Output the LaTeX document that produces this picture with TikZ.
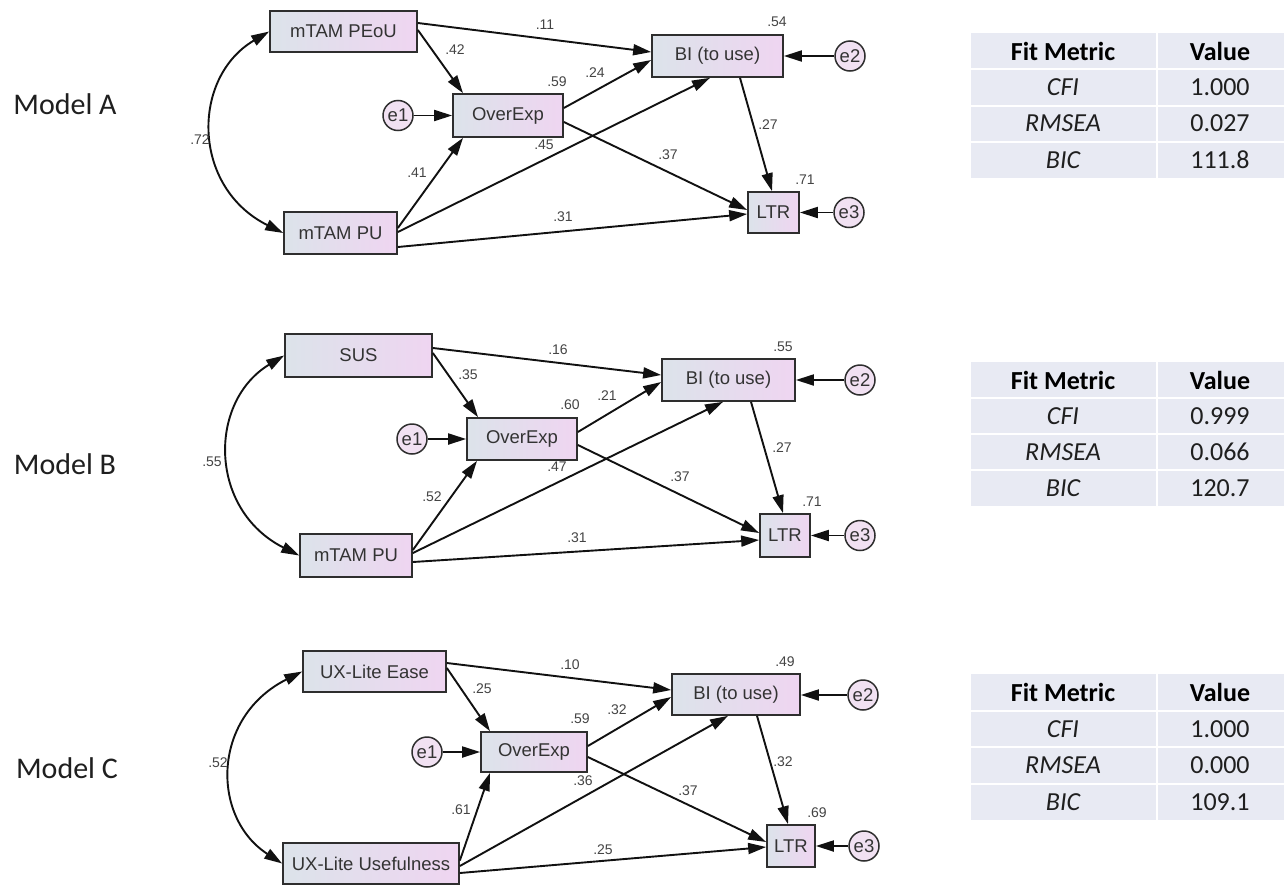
\documentclass[tikz,border=0pt]{standalone}
\usepackage{fontspec}
\setmainfont{Liberation Sans}
\newfontfamily\calib{Carlito}
\usetikzlibrary{arrows.meta,calc}
\definecolor{gL}{HTML}{DCE3EA}
\definecolor{gR}{HTML}{EFD5F1}
\definecolor{boxline}{HTML}{2E2E2E}
\definecolor{txt}{HTML}{333333}
\definecolor{lbl}{HTML}{444444}
\definecolor{errfill}{HTML}{F1E1F2}
\definecolor{cellC}{HTML}{E8EAF3}
\definecolor{lineC}{HTML}{111111}
\tikzset{
 box/.style={draw=boxline, line width=1.7pt, left color=gL, right color=gR, text=txt, font=\fontsize{18.5}{22}\selectfont, inner sep=0pt},
 err/.style={circle, draw=boxline, line width=1.5pt, fill=errfill, text=txt, minimum size=30pt, inner sep=0pt, font=\fontsize{18.5}{20}\selectfont},
 arr/.style={draw=lineC, line width=1.9pt, -{Triangle[length=18pt,width=11pt]}},
 cov/.style={draw=lineC, line width=1.9pt, {Triangle[length=18pt,width=11pt]}-{Triangle[length=18pt,width=11pt]}},
 coef/.style={text=lbl, font=\fontsize{14}{16}\selectfont, inner sep=0pt},
 mlabel/.style={font=\calib\fontsize{30}{34}\selectfont, text=black!88, inner sep=0pt},
 thead/.style={font=\calib\bfseries\fontsize{26}{30}\selectfont, text=black, inner sep=0pt},
 tmet/.style={font=\calib\itshape\fontsize{26}{30}\selectfont, text=black!88, inner sep=0pt},
 tval/.style={font=\calib\fontsize{26}{30}\selectfont, text=black!88, inner sep=0pt},
}
% #1 prefix, #2 top, #3 row height, #4 CFI, #5 RMSEA, #6 BIC
\newcommand\FitTab[6]{%
 \fill[cellC] (971,#2) rectangle (1284,{#2+4*#3});
 \foreach \k in {1,2,3} {\draw[white, line width=2pt] (971,{#2+\k*#3}) -- (1284,{#2+\k*#3});}
 \draw[white, line width=2pt] (1157,#2) -- (1157,{#2+4*#3});
 \node[thead] (#1h1) at (1063,{#2+0.5*#3}) {Fit Metric};
 \node[thead] (#1h2) at (1220,{#2+0.5*#3}) {Value};
 \node[tmet] (#1m1) at (1063,{#2+1.5*#3}) {CFI};
 \node[tval] (#1v1) at (1220,{#2+1.5*#3}) {#4};
 \node[tmet] (#1m2) at (1063,{#2+2.5*#3}) {RMSEA};
 \node[tval] (#1v2) at (1220,{#2+2.5*#3}) {#5};
 \node[tmet] (#1m3) at (1063,{#2+3.5*#3}) {BIC};
 \node[tval] (#1v3) at (1220,{#2+3.5*#3}) {#6};
}
\begin{document}
\begin{tikzpicture}[x=1pt,y=-1pt]
\fill[white] (0,0) rectangle (1284,886);
\useasboundingbox (0,0) rectangle (1284,886);

% ================= Model A =================
\node[mlabel] (mA) at (65,104.5) {Model A};
\node[box, minimum width=147pt, minimum height=41pt] (peouA) at (343.5,31.5) {mTAM PEoU};
\node[box, minimum width=113pt, minimum height=42pt] (puA) at (340.5,233) {mTAM PU};
\node[box, minimum width=110pt, minimum height=43pt] (oeA) at (508,115.5) {OverExp};
\node[box, minimum width=131pt, minimum height=42pt] (biA) at (717.5,56) {BI (to use)};
\node[box, minimum width=51pt, minimum height=41pt] (ltrA) at (773.5,212.5) {LTR};
\node[err] (e1A) at (398,115.5) {e1};
\node[err] (e2A) at (850,56) {e2};
\node[err] (e3A) at (849,212.5) {e3};

\draw[cov] (peouA.west) .. controls +(-78,46) and +(-92,-46) .. (puA.west);
\draw[arr] ([yshift=8.5pt]peouA.east) -- ([yshift=4pt]biA.west);
\draw[arr] ([yshift=1.5pt]peouA.east) -- ([xshift=-45pt]oeA.north);
\draw[arr] (e1A) -- (e1A -| oeA.west);
\draw[arr] ([yshift=5pt]puA.east) -- ([xshift=-45pt]oeA.south);
\draw[arr] ([yshift=1pt]puA.east) -- ([xshift=-7.5pt]biA.south);
\draw[arr] ([yshift=-14pt]puA.east) -- ([yshift=-1.5pt]ltrA.west);
\draw[arr] ([yshift=7.5pt]oeA.east) -- ([yshift=-4pt]biA.west);
\draw[arr] ([yshift=-6.5pt]oeA.east) -- ([yshift=2.5pt]ltrA.west);
\draw[arr] ([xshift=22.5pt]biA.south) -- ([xshift=-1.5pt]ltrA.north);
\draw[arr] (e2A) -- (e2A -| biA.east);
\draw[arr] (e3A) -- (e3A -| ltrA.east);

\node[coef] (cA1) at (200,140) {.72};
\node[coef] (cA2) at (545,25) {.11};
\node[coef] (cA3) at (455,50) {.42};
\node[coef] (cA4) at (557,82) {.59};
\node[coef] (cA5) at (595,73) {.24};
\node[coef] (cA6) at (544,145) {.45};
\node[coef] (cA7) at (668,155) {.37};
\node[coef] (cA8) at (768,125) {.27};
\node[coef] (cA9) at (777,22) {.54};
\node[coef] (cA10) at (805,180) {.71};
\node[coef] (cA11) at (563,217) {.31};
\node[coef] (cA12) at (417,173) {.41};

\FitTab{tA}{33}{36.25}{1.000}{0.027}{111.8}

% ================= Model B =================
\node[mlabel] (mB) at (65,464) {Model B};
\node[box, minimum width=147pt, minimum height=43pt] (susB) at (358.5,355.5) {SUS};
\node[box, minimum width=112pt, minimum height=43pt] (puB) at (356,555.5) {mTAM PU};
\node[box, minimum width=110pt, minimum height=42pt] (oeB) at (522,439) {OverExp};
\node[box, minimum width=133pt, minimum height=42pt] (biB) at (728.5,380) {BI (to use)};
\node[box, minimum width=50pt, minimum height=43pt] (ltrB) at (785,535.5) {LTR};
\node[err] (e1B) at (412,439) {e1};
\node[err] (e2B) at (860,380) {e2};
\node[err] (e3B) at (860,535.5) {e3};

\draw[cov] (susB.west) .. controls +(-76,46) and +(-91,-46) .. (puB.west);
\draw[arr] ([yshift=7.5pt]susB.east) -- ([yshift=5pt]biB.west);
\draw[arr] ([yshift=2.5pt]susB.east) -- ([xshift=-44pt]oeB.north);
\draw[arr] (e1B) -- (e1B -| oeB.west);
\draw[arr] ([yshift=5.5pt]puB.east) -- ([xshift=-45pt]oeB.south);
\draw[arr] ([yshift=2.5pt]puB.east) -- ([xshift=-5.5pt]biB.south);
\draw[arr] ([yshift=-6.5pt]puB.east) -- ([yshift=-4.5pt]ltrB.west);
\draw[arr] ([yshift=7pt]oeB.east) -- ([yshift=-2pt]biB.west);
\draw[arr] ([yshift=-6pt]oeB.east) -- ([yshift=2.5pt]ltrB.west);
\draw[arr] ([xshift=22.5pt]biB.south) -- ([xshift=-2pt]ltrB.north);
\draw[arr] (e2B) -- (e2B -| biB.east);
\draw[arr] (e3B) -- (e3B -| ltrB.east);

\node[coef] (cB1) at (212,462) {.55};
\node[coef] (cB2) at (558,350) {.16};
\node[coef] (cB3) at (468,375) {.35};
\node[coef] (cB4) at (570,405) {.60};
\node[coef] (cB5) at (607,396) {.21};
\node[coef] (cB6) at (557,467) {.47};
\node[coef] (cB7) at (432,497) {.52};
\node[coef] (cB8) at (577,538) {.31};
\node[coef] (cB9) at (783,347) {.55};
\node[coef] (cB10) at (782,448) {.27};
\node[coef] (cB11) at (680,477) {.37};
\node[coef] (cB12) at (812,502) {.71};

\FitTab{tB}{362}{36}{0.999}{0.066}{120.7}

% ================= Model C =================
\node[mlabel] (mC) at (67,768) {Model C};
\node[box, minimum width=143pt, minimum height=41pt] (easeC) at (374.5,671.5) {UX-Lite Ease};
\node[box, minimum width=176pt, minimum height=41pt] (useC) at (371,863.5) {UX-Lite Usefulness};
\node[box, minimum width=106pt, minimum height=40pt] (oeC) at (534,752) {OverExp};
\node[box, minimum width=128pt, minimum height=41pt] (biC) at (736,694.5) {BI (to use)};
\node[box, minimum width=48pt, minimum height=42pt] (ltrC) at (791,846) {LTR};
\node[err] (e1C) at (427,752) {e1};
\node[err] (e2C) at (863,695) {e2};
\node[err] (e3C) at (864,846) {e3};

\draw[cov] (easeC.west) .. controls +(-91,46) and +(-71,-46) .. (useC.west);
\draw[arr] ([yshift=8.5pt]easeC.east) -- ([yshift=4.5pt]biC.west);
\draw[arr] ([yshift=3.5pt]easeC.east) -- ([xshift=-44pt]oeC.north);
\draw[arr] (e1C) -- (e1C -| oeC.west);
\draw[arr] ([yshift=3pt]useC.east) -- ([xshift=-44pt]oeC.south);
\draw[arr] ([yshift=-2.5pt]useC.east) -- ([xshift=-8pt]biC.south);
\draw[arr] ([yshift=-9.5pt]useC.east) -- ([yshift=-1pt]ltrC.west);
\draw[arr] ([yshift=6pt]oeC.east) -- ([yshift=-2.5pt]biC.west);
\draw[arr] ([yshift=-5pt]oeC.east) -- ([yshift=4pt]ltrC.west);
\draw[arr] ([xshift=21pt]biC.south) -- ([xshift=-3pt]ltrC.north);
\draw[arr] (e2C) -- (e2C -| biC.east);
\draw[arr] (e3C) -- (e3C -| ltrC.east);

\node[coef] (cC1) at (218,763) {.52};
\node[coef] (cC2) at (570,665) {.10};
\node[coef] (cC3) at (482,689) {.25};
\node[coef] (cC4) at (580,719) {.59};
\node[coef] (cC5) at (617,710) {.32};
\node[coef] (cC6) at (583,781) {.36};
\node[coef] (cC7) at (461,810) {.61};
\node[coef] (cC8) at (603,850) {.25};
\node[coef] (cC9) at (785,662) {.49};
\node[coef] (cC10) at (783,762) {.32};
\node[coef] (cC11) at (688,791) {.37};
\node[coef] (cC12) at (817,813) {.69};

\FitTab{tC}{674}{36.5}{1.000}{0.000}{109.1}
\end{tikzpicture}
\end{document}
